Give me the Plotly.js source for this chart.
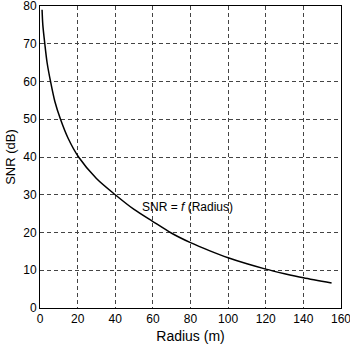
<!DOCTYPE html>
<html><head><meta charset="utf-8">
<script src="https://cdn.plot.ly/plotly-3.0.1.min.js"></script>
<style>html,body{margin:0;padding:0;background:#fff}#chart{width:350px;height:345px}</style>
</head><body><div id="chart"></div>
<script>
const radius = [1.1, 1.5, 2.55, 3.8, 5.6, 7.9, 10.9, 15, 20.5, 30, 40, 50, 60, 70, 80, 90, 100, 110, 120, 130, 140, 155];
const snr    = [79, 75, 70, 64.9, 60, 54.7, 50, 44.9, 40, 34.3, 30, 26.1, 22.9, 19.8, 17.3, 15.2, 13.3, 11.7, 10.3, 9.1, 8.0, 6.6];
const xTicks = [0, 20, 40, 60, 80, 100, 120, 140, 160];
const yTicks = [0, 10, 20, 30, 40, 50, 60, 70, 80];
const labelText = 'SNR = <i>f</i> (Radius)';
const labelPos = {x: 78.5, y: 26.7};

const font = 'Liberation Sans, Arial, sans-serif';
const axisCommon = {
  showline: true, linecolor: '#000', linewidth: 1, mirror: true,
  showgrid: true, gridcolor: '#444', gridwidth: 1, griddash: '4px,3px',
  zeroline: false, ticks: '', tickfont: {family: font, size: 12, color: '#000'},
  tickmode: 'array', ticklabeloverflow: 'allow'
};
Plotly.newPlot('chart', [{
  x: radius, y: snr, type: 'scatter', mode: 'lines',
  line: {color: '#000', width: 1.5, shape: 'spline', smoothing: 0.8}, hoverinfo: 'skip'
}], {
  width: 350, height: 345,
  margin: {l: 40, r: 9, t: 6, b: 37},
  paper_bgcolor: '#fff', plot_bgcolor: '#fff',
  showlegend: false,
  xaxis: Object.assign({}, axisCommon, {
    range: [0, 160], tickvals: xTicks, ticktext: xTicks.map(String),
    title: {text: 'Radius (m)', font: {family: font, size: 14, color: '#000'}, standoff: 5}
  }),
  yaxis: Object.assign({}, axisCommon, {
    range: [0, 80], tickvals: yTicks, ticktext: yTicks.map(String),
    title: {text: 'SNR (dB)', font: {family: font, size: 13, color: '#000'}, standoff: 4}
  }),
  annotations: [{
    x: labelPos.x, y: labelPos.y, xref: 'x', yref: 'y', text: labelText,
    showarrow: false, font: {family: font, size: 12, color: '#000'}
  }]
}, {staticPlot: true});
</script></body></html>
